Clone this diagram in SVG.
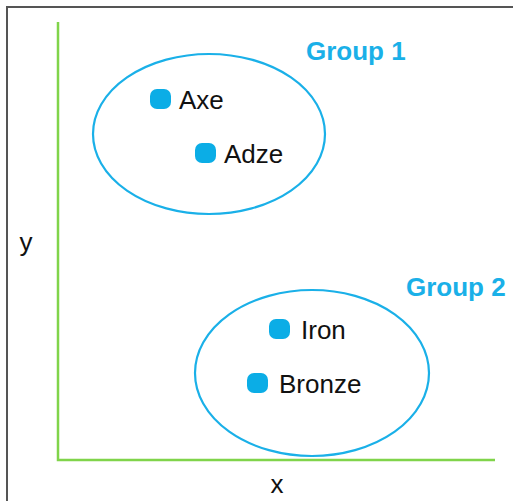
<svg xmlns="http://www.w3.org/2000/svg" width="513" height="501" viewBox="0 0 513 501">
<style>
.grp{fill:none;stroke:#1AB0E8;stroke-width:2.2}
.dot{fill:#0BADE6}
.lbl{font-family:"Liberation Sans",Arial,sans-serif;font-size:26px;fill:#111}
.gl{font-family:"Liberation Sans",Arial,sans-serif;font-size:26px;font-weight:bold;fill:#1AB0E8}
.ax{stroke:#80D44A;stroke-width:2.5;fill:none}
</style>
<rect width="513" height="501" fill="#fff"/>
<path d="M7,501 V7 H513" fill="none" stroke="#555" stroke-width="2"/>
<g id="axes">
<path class="ax" d="M58,22 V460 H495"/>
<text class="lbl" x="26" y="251" text-anchor="middle">y</text>
<text class="lbl" x="277" y="493" text-anchor="middle">x</text>
</g>
<g id="group1">
<ellipse class="grp" cx="209" cy="134" rx="116" ry="80"/>
<text class="gl" x="306" y="60">Group 1</text>
</g>
<g id="group2">
<ellipse class="grp" cx="312" cy="373" rx="117" ry="83"/>
<text class="gl" x="406" y="296">Group 2</text>
</g>
<g id="axe"><rect class="dot" x="150" y="89" width="21" height="20" rx="7"/><text class="lbl" x="179" y="109">Axe</text></g>
<g id="adze"><rect class="dot" x="195" y="143" width="21" height="20" rx="7"/><text class="lbl" x="224" y="163">Adze</text></g>
<g id="iron"><rect class="dot" x="269" y="319" width="21" height="20" rx="7"/><text class="lbl" x="301" y="339">Iron</text></g>
<g id="bronze"><rect class="dot" x="247" y="373" width="21" height="20" rx="7"/><text class="lbl" x="279" y="393">Bronze</text></g>
<g id="connectors"/>
</svg>
